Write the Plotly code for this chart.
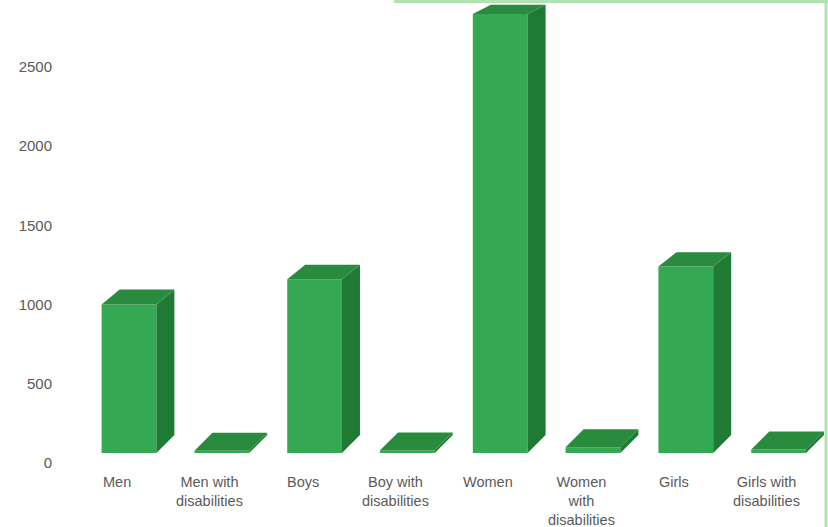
import plotly.graph_objects as go

categories = ["Men", "Men with<br>disabilities", "Boys", "Boy with<br>disabilities",
              "Women", "Women<br>with<br>disabilities", "Girls", "Girls with<br>disabilities"]
values = [1000, 78, 1160, 80, 2835, 100, 1240, 85]
tick_vals = [0, 500, 1000, 1500, 2000, 2500]

# layout geometry (pixels)
W, H = 828, 527
ML, MR, MT, MB = 56, 0, 0, 64
PW, PH = W - ML - MR, H - MT - MB
CAT_PX = 92.8          # pixels per category
FIRST_PX = 129         # pixel x of first category centre
UNIT_PER_PX = 500 / 79.2
FLOOR = 10 * UNIT_PER_PX
BAR_W = 0.59
DX_PX = 18

x0 = -(FIRST_PX - ML) / CAT_PX
x1 = x0 + PW / CAT_PX
y_top = PH * UNIT_PER_PX

FRONT = "#34a853"
TOP = "#288b3e"
SIDE = "#1f7a34"


def dy_units(v):
    py = MT + PH - v / UNIT_PER_PX
    return (9 + 9 * py / 453) * UNIT_PER_PX


dxu = DX_PX / CAT_PX
top_x, top_y, side_x, side_y = [], [], [], []
for i, v in enumerate(values):
    xl, xr = i - BAR_W / 2, i + BAR_W / 2
    d = dy_units(v)
    df = dy_units(FLOOR)
    top_x += [xl, xr, xr + dxu, xl + dxu, xl, None]
    top_y += [v, v, v + d, v + d, v, None]
    side_x += [xr, xr, xr + dxu, xr + dxu, xr, None]
    side_y += [FLOOR, v, v + d, FLOOR + df, FLOOR, None]

fig = go.Figure()
fig.add_trace(go.Bar(x=list(range(len(values))), y=[v - FLOOR for v in values], base=FLOOR,
                     width=BAR_W, marker=dict(color=FRONT, line=dict(width=0)),
                     hoverinfo="skip"))
fig.add_trace(go.Scatter(x=side_x, y=side_y, fill="toself", fillcolor=SIDE, mode="lines",
                         line=dict(width=0, color=SIDE), hoverinfo="skip"))
fig.add_trace(go.Scatter(x=top_x, y=top_y, fill="toself", fillcolor=TOP, mode="lines",
                         line=dict(width=0, color=TOP), hoverinfo="skip"))

font = dict(family="Liberation Sans, Arial, sans-serif", size=15, color="#5a5a5a")
cat_font = dict(family="Liberation Sans, Arial, sans-serif", size=14.5, color="#5a5a5a")

for i, c in enumerate(categories):
    fig.add_annotation(x=i, xref="x", y=-9 / PH, yref="paper", text=c, showarrow=False,
                       xshift=-12, yanchor="top", xanchor="center", align="center",
                       font=cat_font)

# decorative light-green frame (top right and right edge)
def px_x(p):
    return (p - ML) / PW


def px_y(p):
    return (MT + PH - p) / PH


fig.add_shape(type="line", xref="paper", yref="paper", x0=px_x(394), x1=px_x(830),
              y0=px_y(1.5), y1=px_y(1.5), line=dict(color="#b2e2b2", width=3))
fig.add_shape(type="line", xref="paper", yref="paper", x0=px_x(826), x1=px_x(826),
              y0=px_y(0), y1=px_y(530), line=dict(color="#b2e2b2", width=3))

fig.update_layout(
    width=W, height=H, margin=dict(l=ML, r=MR, t=MT, b=MB),
    paper_bgcolor="white", plot_bgcolor="white", showlegend=False,
    font=font,
    xaxis=dict(range=[x0, x1], showgrid=False, zeroline=False, showticklabels=False,
               showline=False, fixedrange=True),
    yaxis=dict(range=[0, y_top], tickvals=tick_vals, showgrid=False, zeroline=False,
               showline=False, ticks="", tickfont=font, ticklabelstandoff=3),
)

fig.write_html("out.html")
